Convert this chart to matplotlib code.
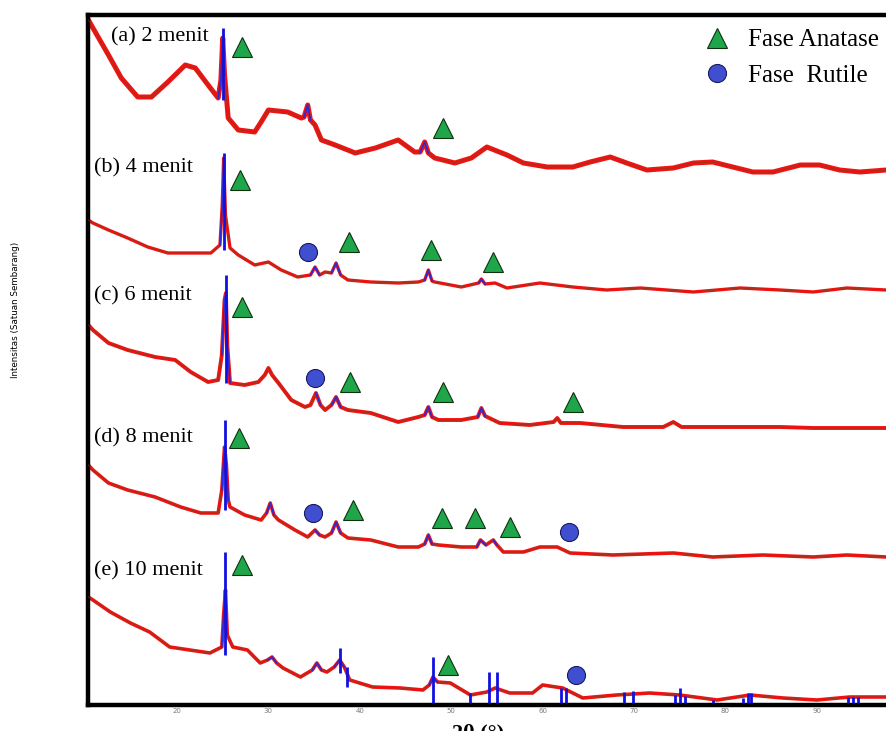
import numpy as np
import matplotlib
matplotlib.use("Agg")
import matplotlib.pyplot as plt
from matplotlib.lines import Line2D

# 2-theta / intensity (arbitrary units, traces already offset)
theta_a = [10.3, 10.8, 12.5, 13.9, 15.7, 17.2, 19.0, 20.9, 22.0, 23.4, 24.5, 24.8, 25.0, 25.2, 25.6,
           26.7, 28.5, 29.2, 30.0, 32.1, 33.6, 33.9, 34.3, 34.6, 35.1, 35.8, 37.3, 39.5, 41.7, 44.2,
           46.0, 46.6, 47.1, 47.5, 48.2, 50.4, 52.2, 53.9, 56.1, 57.9, 60.5, 63.3, 65.2, 67.4, 69.2,
           71.4, 74.3, 76.5, 78.6, 80.8, 83.0, 85.2, 88.2, 90.3, 92.5, 94.7, 97.6]
int_a = [685, 677, 650, 627, 608, 608, 623, 640, 637, 620, 607, 625, 667, 630, 587,
         575, 573, 583, 595, 593, 587, 588, 600, 585, 580, 565, 560, 552, 557, 565,
         553, 553, 563, 552, 547, 542, 547, 558, 550, 542, 538, 538, 543, 548, 542,
         535, 537, 542, 543, 538, 533, 533, 540, 540, 535, 533, 535]

theta_b = [10.3, 10.8, 12.5, 14.6, 16.8, 19.0, 21.2, 23.7, 24.7, 24.95, 25.1, 25.3, 25.8, 26.7, 28.5,
           30.0, 31.4, 33.2, 34.6, 35.1, 35.6, 36.2, 36.9, 37.4, 37.9, 38.7, 41.2, 44.2, 46.4, 47.1,
           47.5, 47.9, 48.2, 51.1, 53.0, 53.3, 53.7, 54.8, 56.1, 59.7, 63.3, 67.0, 70.7, 73.6, 76.5,
           81.6, 86.0, 89.6, 93.3, 97.6]
int_b = [485, 482, 475, 467, 458, 452, 452, 452, 460, 500, 547, 490, 457, 450, 440,
         443, 435, 428, 430, 438, 430, 433, 432, 442, 430, 425, 423, 422, 423, 425,
         435, 424, 423, 418, 422, 426, 421, 422, 417, 422, 418, 415, 417, 415, 413,
         417, 415, 413, 417, 415]

theta_c = [10.3, 10.8, 12.5, 14.6, 17.6, 19.8, 21.5, 23.4, 24.5, 24.9, 25.2, 25.35, 25.5, 25.8, 27.4,
           28.9, 29.6, 30.0, 30.4, 31.1, 32.5, 34.0, 34.6, 35.2, 35.7, 36.2, 36.9, 37.4, 37.9, 38.7,
           41.2, 44.2, 46.4, 47.1, 47.5, 47.9, 48.6, 51.1, 52.9, 53.3, 53.7, 55.3, 58.6, 61.2, 61.6,
           62.0, 64.1, 68.8, 73.2, 74.3, 75.2, 80.8, 86.0, 89.6, 93.3, 97.6]
int_c = [380, 375, 362, 355, 348, 345, 333, 323, 325, 350, 405, 412, 360, 322, 320,
         323, 330, 337, 330, 322, 305, 298, 300, 312, 300, 295, 300, 308, 298, 295,
         292, 283, 288, 290, 298, 288, 285, 285, 288, 297, 289, 282, 280, 283, 287,
         282, 282, 278, 278, 283, 278, 278, 278, 277, 277, 277]

theta_d = [10.3, 10.8, 12.5, 14.6, 17.6, 20.4, 22.6, 24.5, 24.9, 25.2, 25.4, 25.6, 25.8, 27.4, 29.2,
           29.8, 30.2, 30.6, 31.1, 32.9, 34.3, 35.1, 35.6, 36.2, 36.9, 37.4, 37.9, 38.7, 41.2, 44.2,
           46.4, 47.1, 47.5, 47.9, 48.6, 51.1, 52.8, 53.2, 53.8, 54.6, 55.0, 55.7, 57.9, 59.7, 61.6,
           63.0, 67.7, 74.3, 78.6, 84.1, 89.6, 93.3, 97.6]
int_d = [240, 235, 222, 215, 208, 198, 192, 192, 215, 258, 240, 205, 198, 190, 185,
         192, 202, 190, 185, 175, 168, 175, 170, 168, 172, 183, 172, 167, 165, 158,
         158, 161, 170, 161, 160, 158, 158, 165, 160, 165, 160, 153, 153, 158, 158,
         152, 150, 152, 148, 150, 148, 150, 148]

theta_e = [10.3, 10.8, 12.7, 14.9, 17.0, 19.2, 21.4, 23.6, 24.9, 25.1, 25.3, 25.5, 26.1, 27.7, 29.1,
           29.9, 30.4, 30.9, 31.6, 33.5, 34.8, 35.3, 35.8, 36.4, 37.2, 37.8, 38.3, 38.9, 41.4, 44.4,
           46.9, 47.6, 48.0, 48.5, 49.9, 52.1, 53.9, 54.8, 56.4, 58.9, 60.0, 62.2, 64.4, 68.1, 71.7,
           75.0, 79.1, 82.7, 86.3, 90.0, 93.6, 97.6]
int_e = [108, 105, 93, 82, 73, 58, 55, 52, 58, 90, 115, 70, 58, 55, 42,
         45, 48, 42, 37, 28, 35, 42, 35, 33, 38, 45, 38, 25, 18, 17,
         15, 20, 28, 23, 22, 10, 13, 17, 12, 12, 20, 17, 7, 10, 12,
         10, 5, 10, 7, 5, 8, 8]

labels = ["(a) 2 menit", "(b) 4 menit", "(c) 6 menit", "(d) 8 menit", "(e) 10 menit"]
label_pos = [(12.8, 668), (10.9, 537), (10.9, 409), (10.9, 267), (10.9, 134)]

# fitted peak regions (drawn blue over the trace)
peaks = [
    [25.0, 34.3, 47.1],
    [25.1, 35.1, 37.4, 47.5, 53.3],
    [25.35, 35.2, 37.4, 47.5, 53.3],
    [25.2, 30.2, 35.1, 37.4, 47.5, 53.2, 54.6],
    [25.3, 30.4, 35.3, 37.8, 48.0, 62.2],
]

# reference sticks: position, bottom, top
sticks_theta = [25.0, 25.1, 25.35, 25.2, 25.3, 37.8, 38.6, 48.0, 52.1, 54.1, 55.0, 62.0, 62.6,
                68.9, 69.9, 74.5, 75.0, 75.6, 78.6, 81.9, 82.5, 82.8, 93.4, 94.0, 94.5]
sticks_lo = [605, 455, 322, 195, 50, 32, 18, 2, 2, 2, 2, 2, 2, 2, 2, 2, 2, 2, 2, 2, 2, 2, 2, 2, 2]
sticks_hi = [677, 552, 430, 285, 153, 57, 38, 48, 12, 33, 33, 17, 17, 13, 14, 10, 17, 9, 5, 7, 12,
             12, 8, 8, 8]

# phase markers
anatase_theta = [27.1, 49.1, 26.9, 38.8, 47.8, 54.6, 27.1, 38.9, 49.1, 63.3, 26.8, 39.3, 49.0,
                 52.6, 56.4, 27.1, 49.65]
anatase_int = [658, 577, 525, 463, 455, 443, 398, 323, 313, 303, 267, 195, 187, 187, 178, 140, 40]
rutile_theta = [34.3, 35.1, 34.9, 62.9, 63.65]
rutile_int = [453, 327, 192, 173, 30]

thetas = [theta_a, theta_b, theta_c, theta_d, theta_e]
ints = [int_a, int_b, int_c, int_d, int_e]
widths = [3.6, 2.4, 2.8, 2.6, 2.6]

fig = plt.figure(figsize=(8.86, 7.31), dpi=100)
ax = fig.add_axes([88 / 886, 26 / 731, 798 / 886, 690 / 731])

serif = "Liberation Serif"

for t, y, lw, pk in zip(thetas, ints, widths, peaks):
    t = np.array(t)
    y = np.array(y)
    ax.plot(t, y, color="#f21212", lw=lw, zorder=2)
    ax.plot(t, y, color="#6a4a20", lw=0.7, alpha=0.6, zorder=3)
    for p in pk:
        m = np.abs(t - p) <= 0.6
        ax.plot(t[m], y[m], color="#2a2ad8", lw=1.2, zorder=4)

ax.vlines(sticks_theta, sticks_lo, sticks_hi, color="#1010e0", lw=2.0, zorder=5)

ax.plot(anatase_theta, anatase_int, ls="none", marker="^", ms=15, color="#1fa64a",
        mec="#103010", mew=0.8, zorder=6)
ax.plot(rutile_theta, rutile_int, ls="none", marker="o", ms=13, color="#3f4fcf",
        mec="#1a1a60", mew=0.8, zorder=6)

for lab, (lx, ly) in zip(labels, label_pos):
    ax.text(lx, ly, lab, family=serif, fontsize=16, ha="left", va="center", zorder=7)

handles = [
    Line2D([], [], ls="none", marker="^", ms=15, color="#1fa64a", mec="#103010", mew=0.8),
    Line2D([], [], ls="none", marker="o", ms=13, color="#3f4fcf", mec="#1a1a60", mew=0.8),
]
fig.legend(handles, ["Fase Anatase", "Fase  Rutile"], loc="upper left",
           bbox_to_anchor=(704 / 886, 1 - 29 / 731), frameon=False,
           prop={"family": serif, "size": 18}, handlelength=1.0, handletextpad=0.75,
           borderpad=0, borderaxespad=0, labelspacing=0.5)

ax.set_xlim(10.26, 97.57)
ax.set_ylim(0, 690)
ax.set_xticks([20, 30, 40, 50, 60, 70, 80, 90])
ax.set_yticks([])
ax.tick_params(axis="x", length=0, pad=2, labelsize=5, labelcolor="#777777")
for s in ["left", "top", "bottom"]:
    ax.spines[s].set_linewidth(3.2)
ax.spines["right"].set_visible(False)

fig.text(478 / 886, 1 - 733 / 731, "2θ (°)", family=serif, fontsize=16, fontweight="bold",
         ha="center", va="center")
fig.text(16 / 886, 1 - 310 / 731, "Intensitas (Satuan Sembarang)", rotation=90,
         family=["Liberation Sans Narrow", "DejaVu Sans"], fontsize=6.3, ha="center", va="center")

fig.savefig("out.png", dpi=100)
